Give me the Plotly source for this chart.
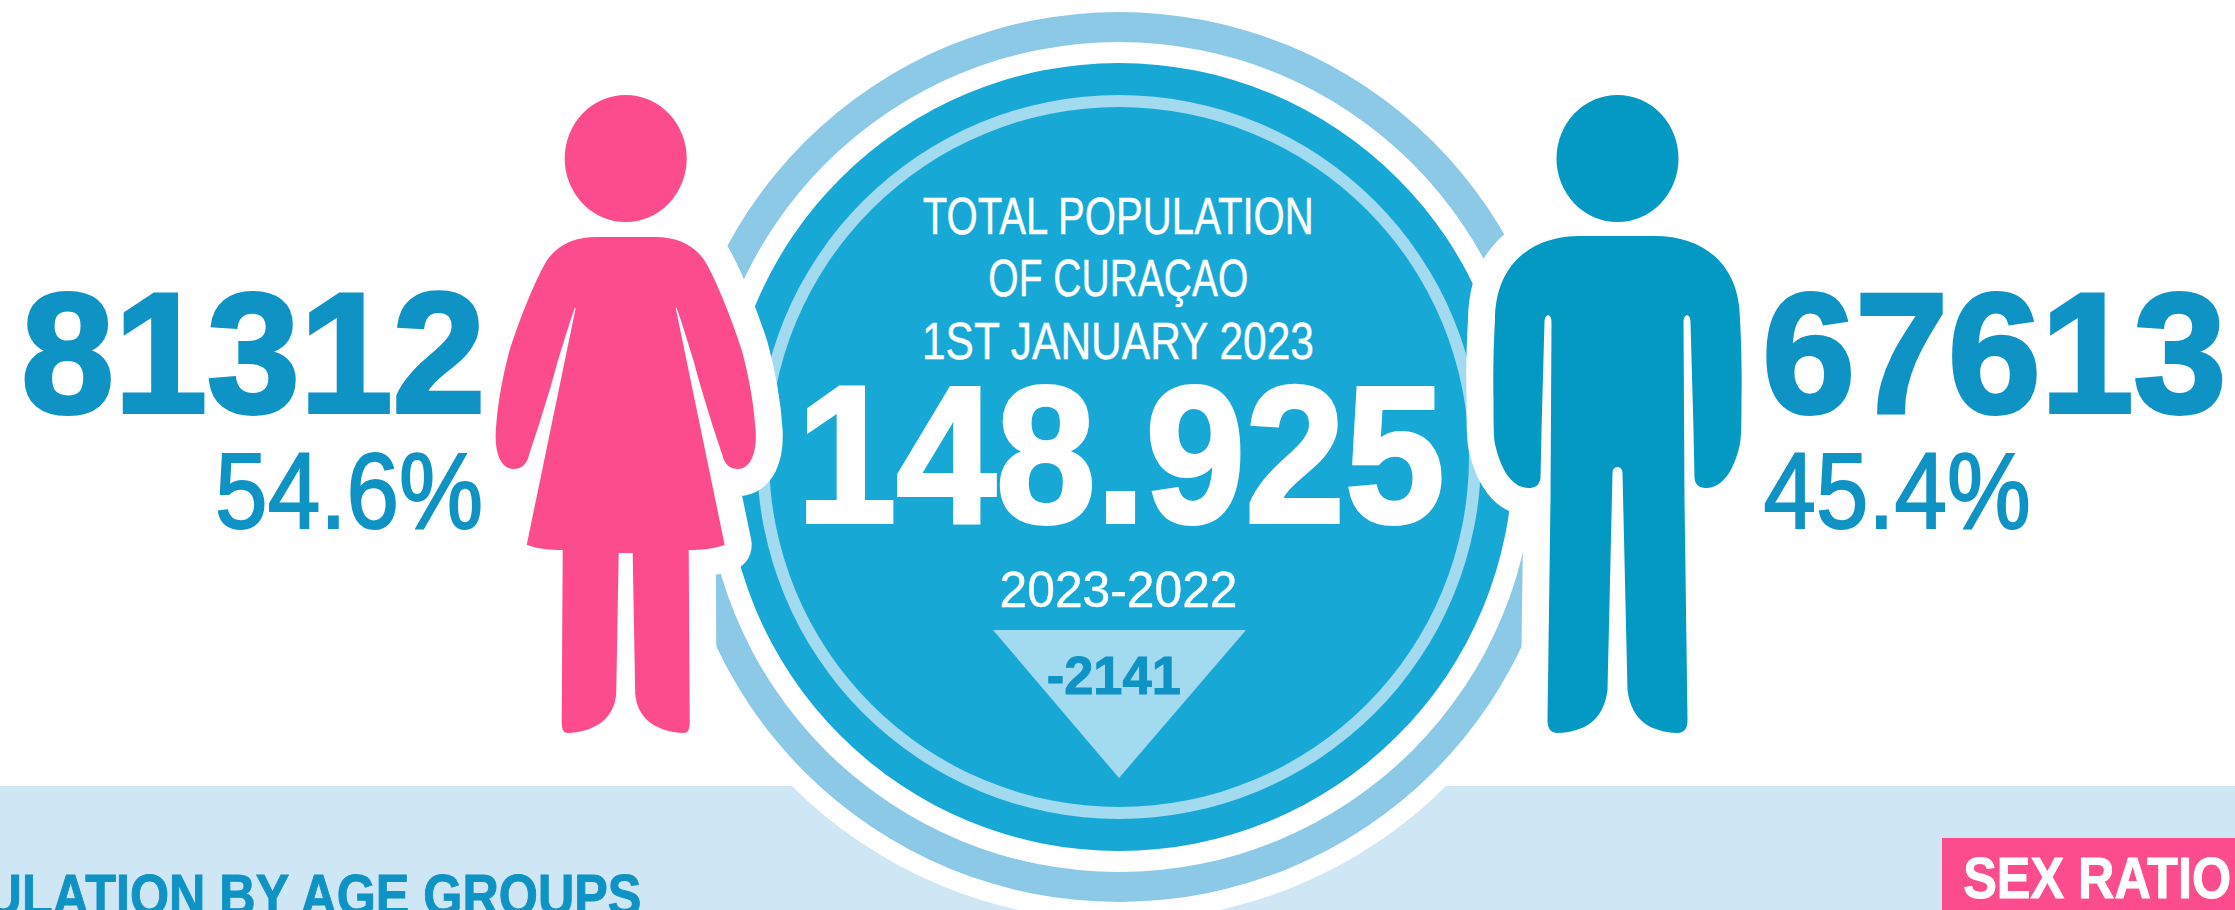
import json
import plotly.graph_objects as go

# ---- data ----
female_total = 81312
male_total = 67613
female_share = 54.6
male_share = 45.4
total_label = "148.925"
change_value = -2141
change_period = "2023-2022"
heading_lines = ["TOTAL POPULATION", "OF CURAÇAO", "1ST JANUARY 2023"]
section_left = "POPULATION BY AGE GROUPS"
section_right = "SEX RATIO"

# ---- style ----
PINK = "#FC4C8E"
MALE = "#0399C3"
DISC = "#18A8D5"
RING = "#8CC9E6"
INNER = "#A2DAF0"
BAND = "#CFE6F4"
TXT = "#0F92C4"
SANS = "Liberation Sans, Arial"
W, H = 2235, 910
CX, CY = 1119, 457


def circle(r, color):
    return dict(type="circle", xref="x", yref="y", x0=CX - r, x1=CX + r, y0=CY - r, y1=CY + r,
                fillcolor=color, line_width=0, layer="below")


def ellipse(cx, cy, rx, ry, color):
    return dict(type="circle", xref="x", yref="y", x0=cx - rx, x1=cx + rx, y0=cy - ry, y1=cy + ry,
                fillcolor=color, line_width=0, layer="below")


def mirrored(cx, start, segs):
    """segs: half outline from top centre to bottom centre, given as (dx, y) offsets."""
    def pt(p, s):
        return f"{cx + s * p[0]:.1f},{p[1]:.1f}"
    d = "M" + pt(start, 1)
    for seg in segs:
        d += " L" + pt(seg[0], 1) if len(seg) == 1 else " C" + " ".join(pt(p, 1) for p in seg)
    pts = [start] + [seg[-1] for seg in segs]
    for i in range(len(segs) - 1, -1, -1):
        seg = segs[i]
        if len(seg) == 1:
            d += " L" + pt(pts[i], -1)
        else:
            d += " C" + " ".join(pt(p, -1) for p in (seg[1], seg[0], pts[i]))
    return d + " Z"


WOMAN_X = 625.7
woman = mirrored(WOMAN_X, (0, 237), [
    [(30, 237)],
    [(52, 237), (72, 246), (82, 266)],
    [(94, 288), (108, 325), (116, 350)],
    [(122, 372), (128, 400), (130, 432)],
    [(131, 455), (124, 469), (112, 469)],
    [(105, 469), (99, 465), (97, 456)],
    [(89, 432), (76, 392), (68.5, 363)],
    [(63, 345), (57, 325), (51, 308)],
    [(50, 308)],
    [(99, 545)],
    [(88, 549), (75, 550), (63, 550)],
    [(64, 722)],
    [(64, 730), (62, 733), (58, 733)],
    [(35, 732), (12, 722), (9.5, 694)],
    [(7, 553)],
    [(0, 553)],
])

MAN_X = 1617.5
man = mirrored(MAN_X, (0, 236), [
    [(37, 236)],
    [(90, 236), (122.5, 268), (122.5, 320)],
    [(124, 345), (124.5, 380), (124, 397)],
    [(124, 420), (124, 440), (122, 446)],
    [(116, 472), (104, 488), (89, 488)],
    [(83, 488), (78, 486), (77, 478)],
    [(76, 430)],
    [(73, 322)],
    [(73, 313), (66, 313), (66, 322)],
    [(67, 500)],
    [(70, 720)],
    [(70, 728), (67, 733), (60, 733)],
    [(35, 732), (14, 722), (10, 690)],
    [(5, 473)],
    [(5, 467), (0, 467), (0, 467)],
])

shapes = [
    dict(type="rect", xref="x", yref="y", x0=0, x1=W, y0=786, y1=H, fillcolor=BAND, line_width=0, layer="below"),
    dict(type="rect", xref="x", yref="y", x0=1942, x1=W, y0=838, y1=H, fillcolor=PINK, line_width=0, layer="below"),
    circle(464, "#FFFFFF"),
    circle(445, RING),
    circle(415, "#FFFFFF"),
    circle(394, DISC),
    circle(362, INNER),
    circle(350, DISC),
    dict(type="path", path=woman, fillcolor="#FFFFFF", line=dict(color="#FFFFFF", width=54), layer="below"),
    dict(type="path", path=man, fillcolor="#FFFFFF", line=dict(color="#FFFFFF", width=54), layer="below"),
    dict(type="path", path=woman, fillcolor=PINK, line_width=0, layer="below"),
    dict(type="path", path=man, fillcolor=MALE, line_width=0, layer="below"),
    ellipse(WOMAN_X, 158.5, 61, 63.5, PINK),
    ellipse(MAN_X, 158.5, 61, 63.5, MALE),
    dict(type="path", path=f"M993,630 L1246,630 L{CX},778 Z", fillcolor=INNER, line_width=0, layer="below"),
]

fits = []      # fitted advance width of each label, in px
strokes = []   # extra weight of each label, in px


def label(text, cx, y, size, color, bold, fit, extra=0):
    fits.append(fit)
    strokes.append(extra)
    font = dict(size=size, color=color, family=SANS)
    if bold:
        font["weight"] = 700
    return dict(text=text, x=cx, y=y, xref="x", yref="y", xanchor="center", yanchor="middle",
                showarrow=False, font=font)


annotations = [
    label(heading_lines[0], 1118, 216, 52, "#FFFFFF", False, 391, 0.4),
    label(heading_lines[1], 1118, 278, 52, "#FFFFFF", False, 260, 0.4),
    label(heading_lines[2], 1118, 341, 52, "#FFFFFF", False, 392, 0.4),
    label(total_label, 1120, 454, 194, "#FFFFFF", True, 648, 4),
    label(change_period, 1118, 590, 50, "#FFFFFF", False, 238, 0.4),
    label(str(change_value), 1114, 675, 53, TXT, True, 134, 1),
    label(str(female_total), 253.5, 353, 170, TXT, True, 464, 4),
    label(str(male_total), 1994, 353, 170, TXT, True, 464, 4),
    label(f"{female_share}%", 349, 490, 108, TXT, False, 268, 2),
    label(f"{male_share}%", 1896.5, 490, 108, TXT, False, 267, 2),
    label(section_left, 260, 894.5, 58, TXT, True, 762, 1),
    label(section_right, 2097, 877, 58, "#FFFFFF", True, 268, 1),
]

fig = go.Figure()
fig.add_trace(go.Scatter(x=[0, W], y=[0, H], mode="markers", marker=dict(opacity=0), hoverinfo="skip", showlegend=False))
fig.update_layout(
    width=W, height=H, autosize=False, margin=dict(l=0, r=0, t=0, b=0),
    paper_bgcolor="#FFFFFF", plot_bgcolor="rgba(0,0,0,0)", showlegend=False,
    xaxis=dict(range=[0, W], visible=False, fixedrange=True),
    yaxis=dict(range=[H, 0], visible=False, fixedrange=True),
    shapes=shapes, annotations=annotations,
)
post = """
document.body.style.margin='0';document.body.style.overflow='hidden';
var fits=%s, strokes=%s;
document.querySelectorAll('.shapelayer path').forEach(function(p){p.style.strokeLinejoin='round';});
document.querySelectorAll('g.annotation').forEach(function(g){
  var i=+g.getAttribute('data-index'), t=g.querySelector('text');
  t.setAttribute('textLength',fits[i]); t.setAttribute('lengthAdjust','spacingAndGlyphs');
  if(strokes[i]){t.style.stroke=t.style.fill; t.style.strokeWidth=strokes[i]+'px';}
});
""" % (json.dumps(fits), json.dumps(strokes))
fig.write_html("out.html", config={"displayModeBar": False}, post_script=post)
